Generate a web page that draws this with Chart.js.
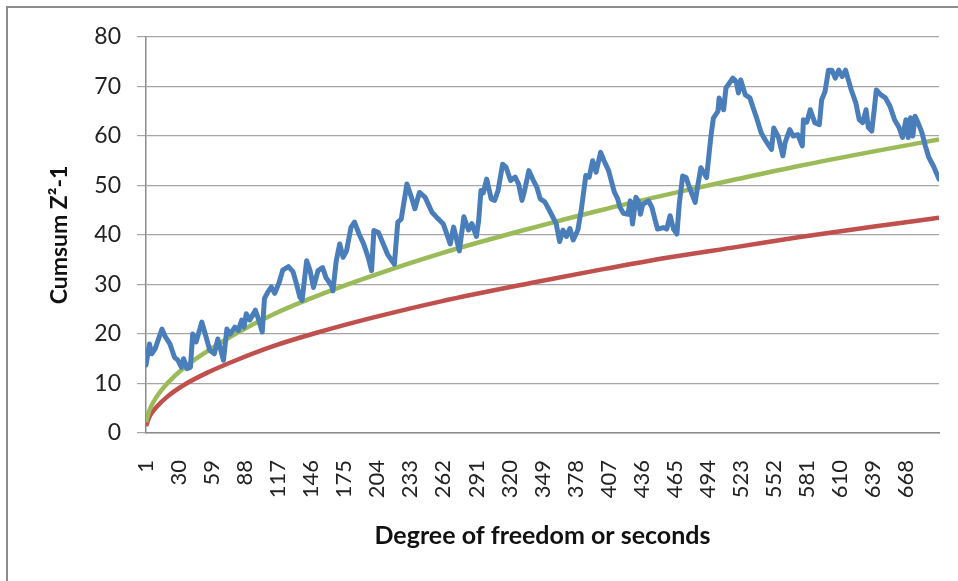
<!DOCTYPE html>
<html>
<head>
<meta charset="utf-8">
<script src="https://cdn.jsdelivr.net/npm/chart.js@4/dist/chart.umd.min.js"></script>
<style>
  html, body { margin: 0; padding: 0; background: #fff; }
  #wrap { position: relative; width: 958px; height: 581px; overflow: hidden; }
  #frame { position: absolute; left: 6px; top: 6px; width: 960px; height: 600px;
           border-left: 2px solid #8c8c8c; border-top: 2px solid #8c8c8c; pointer-events: none; }
</style>
</head>
<body>
<div id="wrap">
  <canvas id="c" width="958" height="581"></canvas>
  <div id="frame"></div>
</div>
<script>
// ---- data ----
const xTickLabels = [1, 30, 59, 88, 117, 146, 175, 204, 233, 262, 291, 320, 349, 378, 407, 436, 465, 494, 523, 552, 581, 610, 639, 668];
const yTicks = [0, 10, 20, 30, 40, 50, 60, 70, 80];

const cumsumX = [1,4,6,9,15,18,22,26,29,32,34,37,40,42,45,50,53,57,61,64,66,69,72,75,79,82,85,87,89,92,97,100,103,105,108,111,114,118,121,126,130,133,136,138,142,145,148,152,156,159,164,165,168,171,174,177,181,184,188,192,196,199,201,205,208,213,219,222,225,230,234,237,241,246,252,256,262,268,271,276,280,284,287,291,293,295,297,300,304,307,310,314,317,321,325,328,331,333,337,341,344,347,351,355,361,364,367,370,373,376,380,383,387,390,393,396,400,403,407,412,415,417,420,424,426,428,431,433,435,437,442,445,448,450,455,458,461,464,467,469,472,475,478,483,485,488,493,497,499,503,504,508,510,514,516,519,521,523,527,531,534,537,541,545,550,552,556,560,562,566,569,573,577,578,581,584,588,592,594,597,600,603,606,609,612,615,617,620,624,627,630,633,635,638,640,642,646,650,654,658,662,665,668,670,672,674,676,678,682,685,688,692,697];
const cumsumY = [13.7,18,16,17,21,19.4,18,15.3,14.7,13.3,15,13,13.3,20,18.4,22.4,20,16.7,16,19,17.3,14.7,21,20,21.4,20.7,22.8,21.4,24.1,22.8,24.8,22.8,20.4,27.2,28.5,29.5,28.2,30.5,32.9,33.6,32.6,30.2,27.5,26.8,34.8,32.8,29.4,32.8,33.4,31.4,29.7,28.7,34.8,38.2,35.5,36.8,41.6,42.6,40.2,38.2,35.5,32.8,40.9,40.5,38.9,36.1,34.1,42.6,43.2,50.3,47.6,45.3,48.6,47.6,44.6,43.6,42.2,38.2,41.6,36.8,43.7,41,42.3,39.7,43,49,48.5,51.3,47.3,47,49,54.3,53.7,51,51.7,50.3,47,48.7,53,51,49.7,47.3,46.7,45,42.3,38.7,41,39.7,41.3,39,41,45,52,51.7,55,52.7,56.7,55,53,48.7,47.3,45.6,44.4,44.2,46.9,42.2,47.6,46.9,44.2,46.2,46.9,45.6,42.9,41.2,41.5,41.2,43.9,41.2,40.2,46.2,51.9,51.6,49.6,46.6,49.6,53.6,51.6,60.3,63.6,65,67.7,65.3,69.7,71,71.7,71,68.7,71.3,68.3,67.7,65.6,63.6,60.6,59,57.3,61.6,59.8,56,58.7,61.3,60,60.3,58,63.3,62.8,65.3,62.7,62.3,67.3,69,73.3,73.3,71.7,73.3,72,73.3,71.7,69.3,66.7,63.3,62.7,65.3,61.7,61,65,69.3,68.3,67.7,66,63.3,61.7,59.7,63.3,59.7,63.7,60,64,63,60.7,58,55.7,54,51.3];

const curveX = [1, 4, 10, 20, 35, 54, 80, 112, 150, 200, 260, 341, 400, 461, 520, 575, 640, 697];
const greenY = [2.2, 4.6, 7.2, 10.1, 13.3, 16.4, 20.1, 23.9, 27.6, 31.8, 36.3, 41.5, 45.0, 48.3, 51.3, 54.0, 56.9, 59.3];
const redY   = [1.4, 3.3, 5.2, 7.4, 9.8, 12.1, 14.7, 17.5, 20.2, 23.3, 26.6, 30.4, 33.0, 35.5, 37.6, 39.6, 41.7, 43.5];

const toPts = (xs, ys) => xs.map((x, i) => ({ x: x, y: ys[i] }));

const FONT = 'Lato, "Open Sans", sans-serif';

new Chart(document.getElementById('c'), {
  type: 'line',
  data: {
    datasets: [
      { label: 'Cumsum Z²-1', data: toPts(cumsumX, cumsumY), borderColor: '#4a7ebb', borderWidth: 5,
        pointRadius: 0, tension: 0, borderJoinStyle: 'round', borderCapStyle: 'round' },
      { label: 'Upper', data: toPts(curveX, greenY), borderColor: '#9bbb59', borderWidth: 4.5,
        pointRadius: 0, cubicInterpolationMode: 'monotone' },
      { label: 'Lower', data: toPts(curveX, redY), borderColor: '#c0504d', borderWidth: 4.5,
        pointRadius: 0, cubicInterpolationMode: 'monotone' }
    ]
  },
  options: {
    responsive: false,
    animation: false,
    events: [],
    layout: { padding: { top: 37, right: 19, left: 0, bottom: 0 } },
    plugins: { legend: { display: false }, tooltip: { enabled: false } },
    scales: {
      x: {
        type: 'linear',
        min: 1,
        max: 697,
        afterBuildTicks: (s) => { s.ticks = xTickLabels.map(v => ({ value: v })); },
        afterFit: (s) => { s.height = 148; s.paddingLeft = 0; s.paddingRight = 0; },
        grid: { display: false, drawTicks: false },
        border: { display: true, color: '#8c8c8c', width: 1.5 },
        ticks: {
          autoSkip: false, minRotation: 90, maxRotation: 90, padding: 27,
          color: '#222', font: { family: FONT, size: 22 },
          callback: (v) => String(v)
        },
        title: { display: true, text: 'Degree of freedom or seconds', color: '#111',
                 font: { family: FONT, size: 25, weight: 'bold' }, padding: { top: 0, bottom: 30 } }
      },
      y: {
        min: 0, max: 80,
        afterBuildTicks: (s) => { s.ticks = yTicks.map(v => ({ value: v })); },
        afterFit: (s) => { s.width = 146; s.paddingTop = 0; s.paddingBottom = 0; },
        grid: { color: '#a6a6a6', lineWidth: 1.2, tickLength: 9, drawTicks: true },
        border: { display: true, color: '#8c8c8c', width: 1.5 },
        ticks: { padding: 16, color: '#222', font: { family: FONT, size: 23 } },
        title: { display: true, text: 'Cumsum Z²-1', color: '#111',
                 font: { family: FONT, size: 23, weight: 'bold' }, padding: { top: 46, bottom: 0 } }
      }
    }
  }
});
</script>
</body>
</html>
